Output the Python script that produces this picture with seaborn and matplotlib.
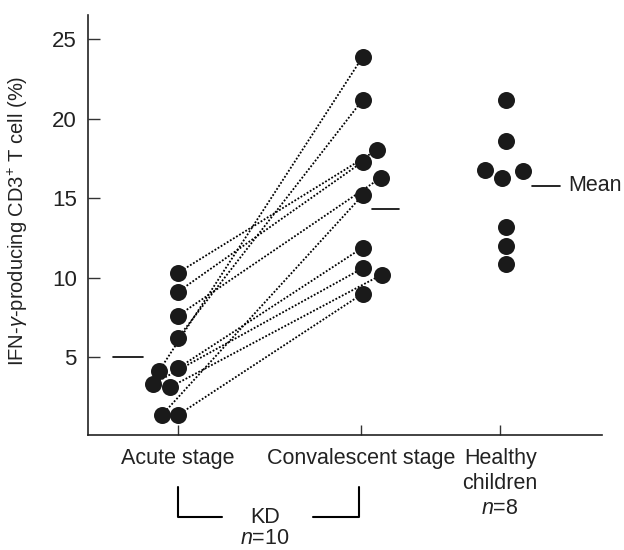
import matplotlib
matplotlib.use("Agg")
import matplotlib.pyplot as plt
import matplotlib.transforms as mtransforms
import seaborn as sns
import pandas as pd

# values (% IFN-g producing CD3+ T cells)
acute = [10.3, 9.1, 7.6, 6.2, 4.3, 4.1, 3.3, 3.1, 1.35, 1.35]
convalescent = [18.06, 17.3, 16.3, 21.2, 11.9, 23.9, 10.6, 10.2, 15.2, 9.0]  # paired with acute
healthy = [21.2, 18.6, 16.76, 16.3, 16.7, 13.2, 12.0, 10.85]
means = [5.0, 14.3, 15.8]
group_labels = ["Acute stage", "Convalescent stage", "Healthy\nchildren\n$n$=8"]

# where the groups sit on the x axis + small side shifts of overlapping dots
group_x = [0.0, 1.0, 1.76]
acute_dx = [0, 0, 0, 0, 0, -0.104, -0.137, -0.044, -0.087, 0]
conv_dx = [0.09, 0.01, 0.11, 0.01, 0.01, 0.01, 0.01, 0.115, 0.01, 0.01]
healthy_dx = [0.03, 0.03, -0.085, 0.01, 0.125, 0.03, 0.03, 0.03]

sns.set_style("ticks")
plt.rcParams['font.family'] = ['Liberation Sans', 'DejaVu Sans']
plt.rcParams['mathtext.fontset'] = 'custom'
plt.rcParams['mathtext.rm'] = 'Liberation Sans'
plt.rcParams['mathtext.it'] = 'Liberation Sans:italic'

pairs = pd.DataFrame({
    "pid": list(range(len(acute))) * 2,
    "x": [group_x[0] + d for d in acute_dx] + [group_x[1] + d for d in conv_dx],
    "y": acute + convalescent,
})
hc = pd.DataFrame({"x": [group_x[2] + d for d in healthy_dx], "y": healthy})

fig = plt.figure(figsize=(6.24, 5.5), dpi=100)
ax = fig.add_axes([0.141, 0.209, 0.824, 0.764])

sns.lineplot(data=pairs, x="x", y="y", units="pid", estimator=None, sort=False,
             color="black", linestyle=(0, (1, 1)), linewidth=1.3, ax=ax)
sns.scatterplot(data=pairs, x="x", y="y", color="#1a1a1a", s=150, linewidth=0, zorder=3, ax=ax)
sns.scatterplot(data=hc, x="x", y="y", color="#1a1a1a", s=150, linewidth=0, zorder=3, ax=ax)

# mean bars
mean_off = [(-0.355, -0.19), (0.06, 0.21), (0.175, 0.325)]
for gx, m, (a, b) in zip(group_x, means, mean_off):
    ax.plot([gx + a, gx + b], [m, m], color="black", linewidth=1.2)
ax.text(group_x[2] + 0.37, means[2], "Mean", fontsize=15.5, va="center", ha="left", color="#222222")

ax.set_xlim(-0.49, 2.317)
ax.set_ylim(0.1, 26.54)
ax.set_yticks([5, 10, 15, 20, 25])
ax.set_xticks(group_x)
ax.set_xticklabels(group_labels)
for t in ax.get_xticklabels():
    t.set_linespacing(1.25)
    t.set_fontsize(15.5)
ax.tick_params(axis="both", direction="in", width=1.0, colors="#333333", labelcolor="#222222")
ax.tick_params(axis="x", length=7.5, pad=9)
ax.tick_params(axis="y", length=8.5, pad=8, labelsize=16)
ax.set_xlabel("")
ax.set_ylabel("IFN-$\\it{\\gamma}$-producing CD3$^{+}$ T cell (%)", fontsize=14.5, color="#222222")
ax.yaxis.set_label_coords(-0.113, 0.51)
sns.despine(ax=ax)
for s in ["left", "bottom"]:
    ax.spines[s].set_linewidth(1.2)
    ax.spines[s].set_color("#222222")

# KD bracket below the first two groups
tr = mtransforms.blended_transform_factory(ax.transData, ax.transAxes)
ax.plot([0, 0, 0.24], [-0.124, -0.195, -0.195], color="black", lw=1.5, transform=tr, clip_on=False)
ax.plot([0.74, 0.99, 0.99], [-0.195, -0.195, -0.124], color="black", lw=1.5, transform=tr, clip_on=False)
ax.text(0.475, -0.197, "KD", transform=tr, ha="center", va="center", fontsize=15.5, color="#222222")
ax.text(0.475, -0.247, "$n$=10", transform=tr, ha="center", va="center", fontsize=15.5, color="#222222")

fig.savefig("out.png", dpi=100)
